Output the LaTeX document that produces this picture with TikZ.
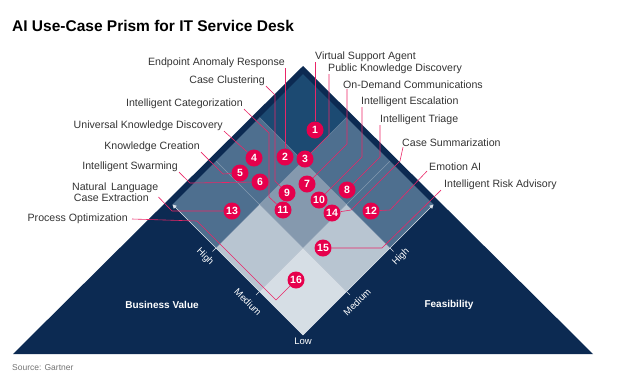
\documentclass[tikz,border=0pt]{standalone}
\usepackage{fontspec}
\setmainfont{Liberation Sans}
\usepackage{tikz}
\usetikzlibrary{arrows.meta,positioning,calc}
\definecolor{navy}{HTML}{0C2A52}
\definecolor{topcell}{HTML}{1C4A72}
\definecolor{midcell}{HTML}{4E6F8F}
\definecolor{centcell}{HTML}{8599AE}
\definecolor{lowcell}{HTML}{B8C5D1}
\definecolor{basecell}{HTML}{D6DEE5}
\definecolor{gpink}{HTML}{E6004C}
\definecolor{labelgray}{HTML}{333333}
\newcommand{\fsz}[1]{\fontsize{#1bp}{#1bp}\selectfont}
\pgfdeclarelayer{front}
\pgfsetlayers{main,front}

\begin{document}
\begin{tikzpicture}[
  x=1bp, y=-1bp,
  badge/.style={circle, fill=gpink, text=white, minimum size=17bp,
    inner sep=0pt, font=\fsz{10.5}\bfseries},
  lbl/.style={inner sep=0pt, text=labelgray, font=\fsz{10.6}},
  lead/.style={draw=gpink!85!white, line width=0.6bp},
  axis/.style={draw=white!80!midcell, line width=0.6bp,
    -{Triangle[length=4bp,width=4bp]}},
  tickmark/.style={draw=white!80!midcell, line width=0.6bp},
  axlbl/.style={inner sep=0pt, text=white, font=\fsz{9.5}},
  side/.style={inner sep=0pt, text=white, font=\fsz{10}\bfseries}
]
  \useasboundingbox (0,0) rectangle (619,375);

  % Title
  \node[anchor=base west, inner sep=0pt, font=\fsz{15.5}\bfseries] (title)
    at (12,31) {AI Use-Case Prism for IT Service Desk};

  % Prism and grid
  \fill[navy] (13,354) -- (303,66) -- (593,354) -- cycle;
  \foreach \i/\j/\c in {0/0/basecell, 1/0/lowcell, 0/1/lowcell, 1/1/centcell,
      2/0/midcell, 0/2/midcell, 2/1/midcell, 1/2/midcell, 2/2/topcell}
    \fill[\c, shift={({43.5*(\j-\i)},{-43.5*(\i+\j)})}]
      (303,335) -- ++(-43.5,-43.5) -- ++(43.5,-43.5) -- ++(43.5,43.5) -- cycle;
  \foreach \k in {1,2} {
    \draw[white, opacity=0.35, line width=0.5bp]
      ({303-43.5*\k},{335-43.5*\k}) -- ++(130.5,-130.5);
    \draw[white, opacity=0.35, line width=0.5bp]
      ({303+43.5*\k},{335-43.5*\k}) -- ++(-130.5,-130.5);
  }

  % Axes
  \coordinate (low) at (303,335);
  \coordinate (bvtop) at (172.5,204.5);
  \coordinate (fetop) at (433.5,204.5);
  \draw[axis] (low) -- (bvtop);
  \draw[axis] (low) -- (fetop);
  \foreach \k in {1,2} {
    \draw[tickmark] ({303-43.5*\k},{335-43.5*\k}) -- ++(-3.5,3.5);
    \draw[tickmark] ({303+43.5*\k},{335-43.5*\k}) -- ++(3.5,3.5);
  }
  \node[axlbl, rotate=-45] (bvhigh) at (205,257) {High};
  \node[axlbl, rotate=-45] (bvmed) at (248,302) {Medium};
  \node[axlbl, rotate=45] (fehigh) at (401,257) {High};
  \node[axlbl, rotate=45] (femed) at (357,302) {Medium};
  \node[axlbl, below=3bp of low] (lowlbl) {Low};
  \node[side] (bv) at (162,305) {Business Value};
  \node[side] (fe) at (449,305) {Feasibility};

  % Numbered use cases
  \begin{pgfonlayer}{front}
    \foreach \n/\px/\py in {1/315/130, 2/285/157, 3/305/159, 4/254/158,
        5/240/173, 6/260/182, 7/307/184, 8/347/190, 9/287/193, 10/319/200,
        11/283/210, 12/371/211, 13/232/211, 14/332/213, 15/323/248, 16/296/280}
      \node[badge] (c\n) at (\px,\py) {\n};
  \end{pgfonlayer}

  % Labels
  \node[lbl, anchor=west] (vsa) at (315,57) {Virtual Support Agent};
  \node[lbl, anchor=east] (ear) at (285,63) {Endpoint Anomaly Response};
  \node[lbl, anchor=west] (pkd) at (328,69) {Public Knowledge Discovery};
  \node[lbl, anchor=east] (cc) at (265,81) {Case Clustering};
  \node[lbl, anchor=west] (odc) at (343,85) {On-Demand Communications};
  \node[lbl, anchor=west] (iesc) at (361,102) {Intelligent Escalation};
  \node[lbl, anchor=east] (icat) at (243,104) {Intelligent Categorization};
  \node[lbl, anchor=west] (itri) at (380,120) {Intelligent Triage};
  \node[lbl, anchor=east] (ukd) at (223,126) {Universal Knowledge Discovery};
  \node[lbl, anchor=west] (csum) at (402,143) {Case Summarization};
  \node[lbl, anchor=east] (kc) at (200,147) {Knowledge Creation};
  \node[lbl, anchor=west] (eai) at (429,167) {Emotion AI};
  \node[lbl, anchor=east] (isw) at (178,167) {Intelligent Swarming};
  \node[lbl, anchor=west] (ira) at (444,185) {Intelligent Risk Advisory};
  \node[lbl, anchor=west, align=left, font=\fontsize{10.6bp}{10.5bp}\selectfont] (nlce)
    at (72,192) {Natural\, Language\\\,Case Extraction};
  \node[lbl, anchor=east] (po) at (128,219) {Process Optimization};

  % Leaders
  \draw[lead] (vsa.south west) -- (c1);
  \draw[lead] (ear.south east) -- (c2);
  \draw[lead] ([xshift=1bp]pkd.south west) -- (329,135) -- (c3);
  \draw[lead] ([xshift=1bp]cc.south east) -- (275,95) -- (275,181) -- (c9);
  \draw[lead] ([xshift=1bp]icat.south east) -- (269,133) -- (269,197) -- (c11);
  \draw[lead] ([xshift=1bp]ukd.south east) -- (c4);
  \draw[lead] ([xshift=1bp]kc.south east) -- (223,174) -- (c5);
  \draw[lead] ([xshift=1bp]isw.south east) -- (190,183) -- (c6);
  \draw[lead] ([yshift=-5bp]nlce.east) -- (172,211) -- (c13);
  \draw[lead] ([xshift=4bp]po.east) -- (197,221) -- (276,300) -- (c16);
  \draw[lead] ([xshift=4bp]odc.south west) -- (347,144) -- (c7);
  \draw[lead] ([xshift=1bp]iesc.south west) -- (362,157) -- (c10);
  \draw[lead] (itri.south west) -- (380,157) -- (c8);
  \draw[lead] ([xshift=1bp]csum.south west) -- (400,161) -- (351,210) -- (c14);
  \draw[lead] ([xshift=-2bp]eai.south west) -- (390,210) -- (c12);
  \draw[lead] ([xshift=-3bp]ira.south west) -- (382,248) -- (c15);

  % Source
  \node[anchor=base west, inner sep=0pt, text=black!55, font=\fsz{8.5}] (src)
    at (12,370) {Source: Gartner};
\end{tikzpicture}
\end{document}
